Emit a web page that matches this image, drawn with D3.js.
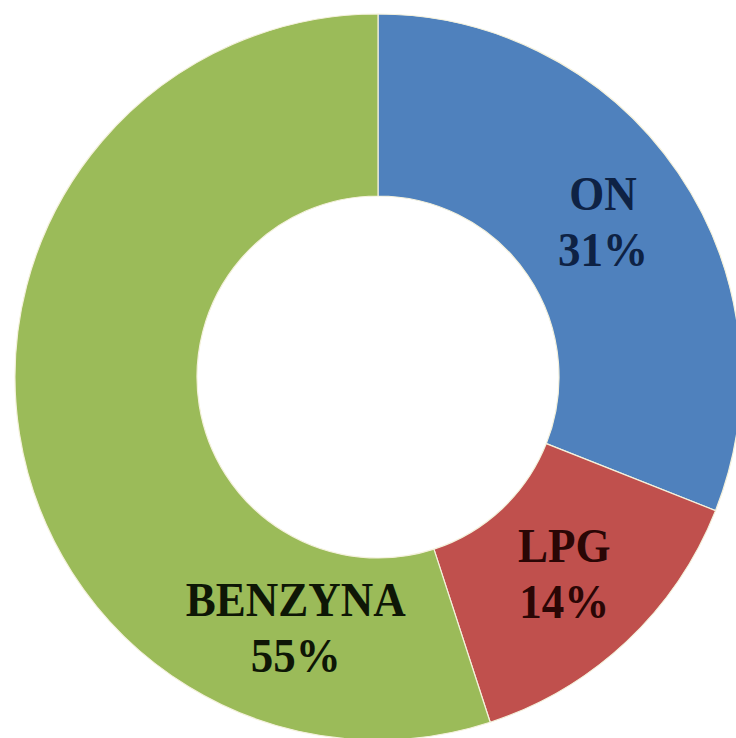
<!DOCTYPE html>
<html>
<head>
<meta charset="utf-8">
<script src="https://cdn.jsdelivr.net/npm/d3@7"></script>
<style>
  html, body { margin: 0; padding: 0; background: #ffffff; }
  svg { display: block; }
  text { font-family: "Liberation Serif", "Times New Roman", serif; font-weight: bold; }
</style>
</head>
<body>
<script>
// Fuel type shares
const categories = ["ON", "LPG", "BENZYNA"];
const shares = [31, 14, 55];
const sliceColors = ["#4f81bd", "#c0504d", "#9bbb59"];
const labelColors = ["#0e2244", "#2a0605", "#0e1606"];

const width = 736, height = 738;
const cx = 378, cy = 377;
const outerR = 363, innerR = 181;

const data = categories.map((c, i) => ({ name: c, value: shares[i], color: sliceColors[i], ink: labelColors[i] }));

const svg = d3.select("body").append("svg")
  .attr("width", width).attr("height", height);

const g = svg.append("g").attr("transform", `translate(${cx},${cy})`);

const pie = d3.pie().sort(null).value(d => d.value);
const arc = d3.arc().innerRadius(innerR).outerRadius(outerR);
const arcs = pie(data);

g.selectAll("path.slice")
  .data(arcs)
  .join("path")
  .attr("class", "slice")
  .attr("d", arc)
  .attr("fill", d => d.data.color)
  .attr("stroke", "#f4f1dc")
  .attr("stroke-width", 1.2);

// Label placement: centroid of the ring, except the large slice which sits low, near the bottom
function labelPos(d) {
  if (d.data.name === "BENZYNA") {
    const a = 198 * Math.PI / 180, r = 266;
    return [r * Math.sin(a), -r * Math.cos(a)];
  }
  return arc.centroid(d);
}

const fontSize = 45;
const labels = g.selectAll("g.label")
  .data(arcs)
  .join("g")
  .attr("class", "label")
  .attr("transform", d => { const p = labelPos(d); return `translate(${p[0]},${p[1]}) scale(1,1.06)`; });

labels.append("text")
  .attr("text-anchor", "middle")
  .attr("y", -13)
  .attr("font-size", fontSize)
  .attr("fill", d => d.data.ink)
  .text(d => d.data.name);

labels.append("text")
  .attr("text-anchor", "middle")
  .attr("y", 40)
  .attr("font-size", fontSize)
  .attr("fill", d => d.data.ink)
  .text(d => d.data.value + "%");
</script>
</body>
</html>
